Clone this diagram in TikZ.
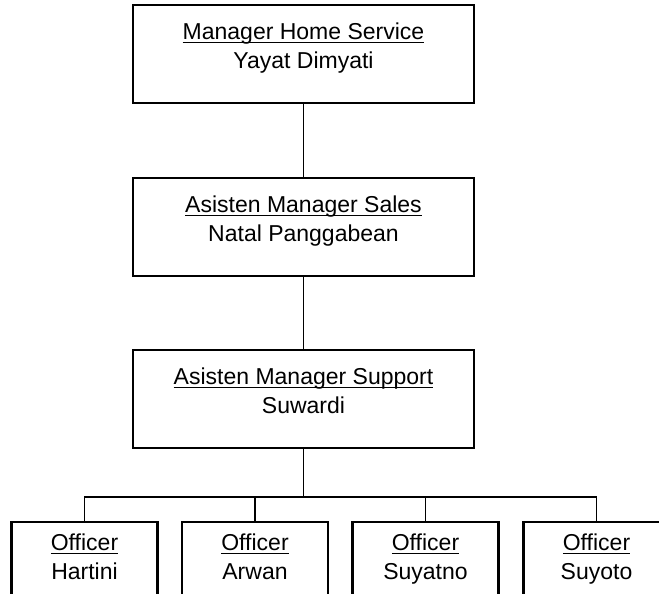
\documentclass[tikz,border=0pt]{standalone}
\usepackage{fontspec}
\usepackage{tikz}
\usetikzlibrary{positioning}
\setmainfont{Liberation Sans}
\newcommand{\postitle}[1]{\setbox0\hbox{#1}\rlap{\rule[-3.2pt]{\wd0}{1pt}}\box0}

\begin{document}
\begin{tikzpicture}[x=1pt, y=-1pt,
    unit/.style={draw=black, line width=2.1pt, align=center, inner sep=0pt,
                 minimum width=341pt, minimum height=98pt,
                 text height=35pt, text depth=6pt,
                 font=\fontsize{23}{29}\selectfont},
    officer/.style={unit, minimum width=146pt, minimum height=86pt},
    link/.style={draw=black, line width=1.8pt}
]
\clip (0,0) rectangle (659,594);
\fill[white] (0,0) rectangle (659,594);

\node[unit] (home) at (303.5,54) {\postitle{Manager Home Service}\\Yayat Dimyati};
\node[unit] (sales) at (303.5,227) {\postitle{Asisten Manager Sales}\\Natal Panggabean};
\node[unit] (support) at (303.5,399) {\postitle{Asisten Manager Support}\\Suwardi};

\node[officer] (hartini) at (84.5,565) {\postitle{Officer}\\Hartini};
\node[officer] (arwan) at (255,565) {\postitle{Officer}\\Arwan};
\node[officer] (suyatno) at (425.5,565) {\postitle{Officer}\\Suyatno};
\node[officer] (suyoto) at (596.5,565) {\postitle{Officer}\\Suyoto};

\coordinate (bus) at (0,497);

\draw[link] (home.south) -- (sales.north);
\draw[link] (sales.south) -- (support.north);
\draw[link] (support.south) -- (support.south |- bus);
\draw[link] (hartini.north) -- (hartini.north |- bus) -- (suyoto.north |- bus)
    -- (suyoto.north);
\draw[link] (arwan.north) -- (arwan.north |- bus);
\draw[link] (suyatno.north) -- (suyatno.north |- bus);
\end{tikzpicture}
\end{document}
